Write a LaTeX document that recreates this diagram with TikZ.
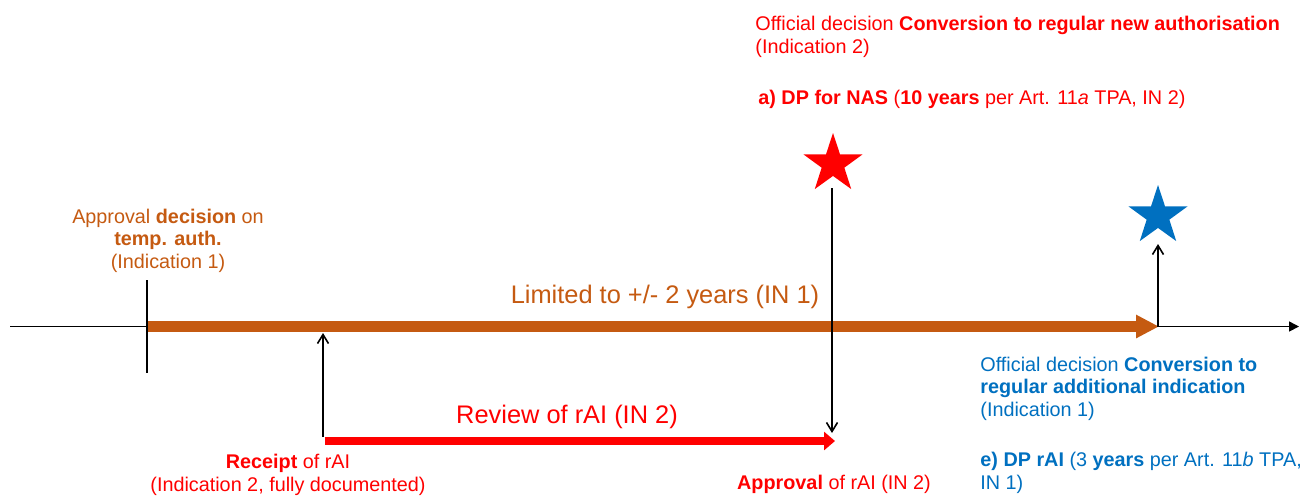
\documentclass[tikz,border=0pt]{standalone}
\usepackage{fontspec}
\setmainfont{Liberation Sans}
\usetikzlibrary{arrows.meta,shapes.geometric}
\definecolor{orng}{HTML}{C55A11}
\definecolor{rd}{HTML}{FF0000}
\definecolor{blu}{HTML}{0070C0}
\begin{document}
\begin{tikzpicture}[x=0.5pt,y=-0.5pt,
  thinarrow/.style={draw=black, line width=0.8pt, -{Straight Barb[length=4.5pt,width=5.5pt]}},
  axisline/.style={draw=black, line width=0.8pt},
  lbl/.style={inner sep=0pt, font=\fontsize{9.9}{11.25}\selectfont},
  big/.style={inner sep=0pt, font=\fontsize{12.7}{15}\selectfont},
  starshape/.style={star, star points=5, star point ratio=2.6, minimum size=31pt, inner sep=0pt, draw=none}]
\useasboundingbox (0,0) rectangle (1300,495);
% coordinates
\coordinate (axL) at (10,326.5);
\coordinate (axR) at (1299,326.5);
\coordinate (tickT) at (147,280);
\coordinate (tickB) at (147,373);
\coordinate (barS) at (147,326.5);
\coordinate (barE) at (1159,326.5);
\coordinate (recB) at (323,437);
\coordinate (recT) at (323,333);
\coordinate (revS) at (325,441);
\coordinate (revE) at (835,441);
\coordinate (apT) at (832,188);
\coordinate (apB) at (832,433);
\coordinate (blB) at (1158,326.5);
\coordinate (blT) at (1158,244);
% stars
\node[starshape, fill=rd] (redstar) at (833,164) {};
\node[starshape, fill=blu] (bluestar) at (1158,216) {};
% axis
\draw[axisline, -{Triangle[length=5pt,width=5pt]}] (axL) -- (axR);
\draw[line width=5.5pt, orng, -{Triangle[length=11.5pt,width=11pt]}] (barS) -- (barE);
\draw[axisline] (tickT) -- (tickB);
\draw[thinarrow] (recB) -- (recT);
\draw[line width=4pt, rd, -{Triangle[length=5.5pt,width=9pt]}] (revS) -- (revE);
\draw[thinarrow] (apT) -- (apB);
\draw[thinarrow] (blB) -- (blT);
% texts (multi-line nodes: base = baseline of last line)
\node[big, text=orng] (limited) at (665,297) {Limited to +/- 2 years (IN 1)};
\node[big, text=rd] (review) at (567,417) {Review of rAI (IN 2)};
\node[lbl, text=orng, align=center, anchor=base] (approvalT) at (168,268)
  {Approval \textbf{decision} on\\\textbf{temp. auth.}\\(Indication 1)};
\node[lbl, text=rd, align=center, anchor=base] (receipt) at (288,491)
  {\textbf{Receipt} of rAI\\(Indication 2, fully documented)};
\node[lbl, text=rd, anchor=base] (approvalR) at (834,489)
  {\textbf{Approval} of rAI (IN 2)};
\node[lbl, text=rd, align=left, anchor=base west] (offA) at (755,53)
  {Official decision \textbf{Conversion to regular new authorisation}\\(Indication 2)};
\node[lbl, text=rd, anchor=base west] (dpA) at (758,104)
  {\textbf{a) DP for NAS} (\textbf{10 years} per Art. 11\textit{a} TPA, IN 2)};
\node[lbl, text=blu, align=left, anchor=base west] (offE) at (980,416)
  {Official decision \textbf{Conversion to}\\\textbf{regular additional indication}\\(Indication 1)};
\node[lbl, text=blu, align=left, anchor=base west] (dpE) at (980,489)
  {\textbf{e) DP rAI} (3 \textbf{years} per Art. 11\textit{b} TPA,\\IN 1)};
\end{tikzpicture}
\end{document}
